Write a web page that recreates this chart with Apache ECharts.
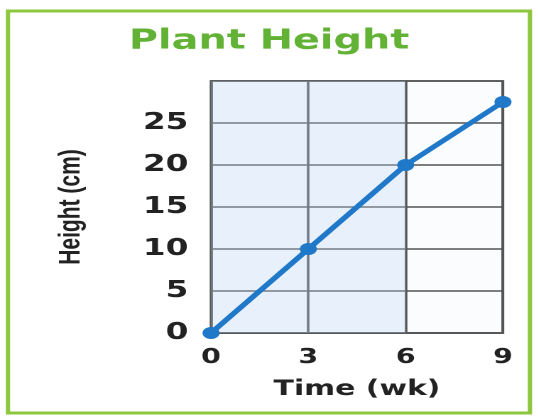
<!DOCTYPE html>
<html>
<head>
<meta charset="utf-8">
<script src="https://cdn.jsdelivr.net/npm/echarts@6/dist/echarts.min.js"></script>
<style>
  html, body { margin: 0; padding: 0; background: #fff; overflow: hidden; }
  /* 原图是横向拉伸过的，这里整体横向放大 */
  #chart { width: 379px; height: 417px; transform: scaleX(1.42); transform-origin: 0 0; }
</style>
</head>
<body>
<div id="chart"></div>
<script>
// 数据
var weeks = [0, 3, 6, 9];
var heights = [0, 10, 20, 27.5];
var yTicks = [0, 5, 10, 15, 20, 25];

var points = weeks.map(function (w, i) { return [w, heights[i]]; });

var chart = echarts.init(document.getElementById('chart'), null, { devicePixelRatio: 2 });

var option = {
    backgroundColor: '#ffffff',
    title: {
        text: 'Plant Height',
        left: 'center',
        top: 22,
        textStyle: {
            color: '#62b236',
            fontSize: 28,
            fontWeight: 900,
            fontFamily: 'DejaVu Sans'
        }
    },
    // 绿色外框
    graphic: [{
        type: 'rect',
        shape: { x: 5.6, y: 11, width: 367.6, height: 402 },
        style: { fill: 'none', stroke: '#8dc63f', lineWidth: 3 },
        z: 100
    }],
    grid: {
        left: 148.6,
        right: 24.8,
        top: 81,
        bottom: 84,
        show: true,
        backgroundColor: '#fbfcfe',
        borderColor: '#555',
        borderWidth: 1.8
    },
    xAxis: {
        type: 'value',
        min: 0,
        max: 9,
        interval: 3,
        name: 'Time (wk)',
        nameLocation: 'middle',
        nameGap: 46,
        nameTextStyle: {
            color: '#222',
            fontSize: 21,
            fontWeight: 'bold',
            fontFamily: 'DejaVu Sans'
        },
        axisLine: { show: true, lineStyle: { color: '#555', width: 1.8 } },
        axisTick: { show: false },
        axisLabel: {
            color: '#222',
            fontSize: 20,
            fontWeight: 'bold',
            fontFamily: 'DejaVu Sans',
            margin: 15
        },
        splitLine: { show: true, lineStyle: { color: '#555', width: 1.8 } }
    },
    yAxis: {
        type: 'value',
        min: 0,
        max: 30,
        interval: 5,
        name: 'Height (cm)',
        nameLocation: 'middle',
        nameGap: 88,
        nameRotate: 90,
        nameTextStyle: {
            color: '#222',
            fontSize: 21,
            fontFamily: 'Liberation Sans Narrow, Liberation Sans',
            fontWeight: 'bold'
        },
        axisLine: { show: true, lineStyle: { color: '#555', width: 1.8 } },
        axisTick: { show: false },
        axisLabel: {
            color: '#222',
            fontSize: 23,
            fontWeight: 'bold',
            fontFamily: 'DejaVu Sans',
            margin: 16,
            formatter: function (v) {
                return yTicks.indexOf(v) >= 0 ? String(v) : '';
            }
        },
        splitLine: { show: true, lineStyle: { color: '#555', width: 1.5 } }
    },
    series: [{
        name: 'Height',
        type: 'line',
        data: points,
        symbol: 'circle',
        symbolSize: 12,
        itemStyle: { color: '#1f78c8' },
        lineStyle: { color: '#1f78c8', width: 4.5 },
        // 左两格淡蓝底色（半透明，网格线可见）
        markArea: {
            silent: true,
            itemStyle: { color: 'rgba(190,215,245,0.3)' },
            data: [[{ xAxis: 0 }, { xAxis: 6 }]]
        },
        z: 5
    }]
};

chart.setOption(option);
</script>
</body>
</html>
